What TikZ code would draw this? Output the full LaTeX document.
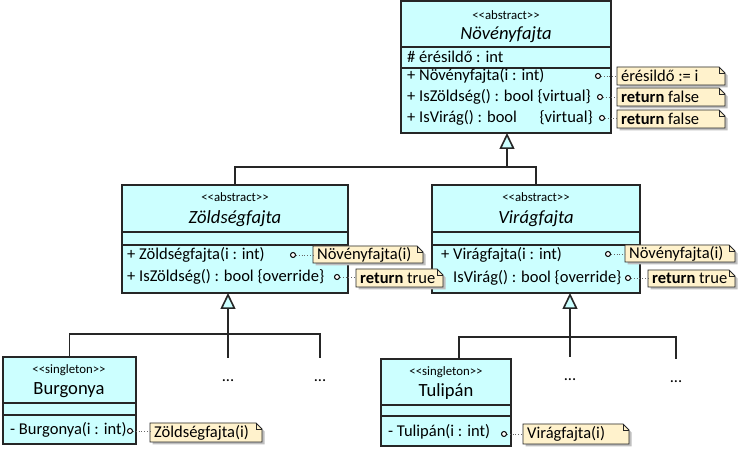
\documentclass[tikz,border=0pt]{standalone}
\usepackage{fontspec}
\setmainfont{Carlito}
\usetikzlibrary{arrows.meta,calc}
\definecolor{clsfill}{HTML}{CCFFFF}
\definecolor{notefill}{HTML}{FFF2CC}
\tikzset{
  cls/.style={draw=black!85, line width=1.3pt, fill=clsfill, inner sep=0pt, outer sep=0pt},
  sepline/.style={draw=black!85, line width=1.3pt},
  edgeline/.style={draw=black!85, line width=1.6pt},
  inh/.style={edgeline, -{Triangle[length=16pt,width=15pt,fill=clsfill]}},
  port/.style={circle, draw=black, line width=1pt, fill=white, minimum size=5pt, inner sep=0pt},
  link/.style={draw=black!60, dotted, line width=0.8pt},
  notebox/.style={draw=black!85, line width=0.9pt, fill=notefill},
  noteshape/.style={inner sep=0pt, outer sep=0pt},
  txt/.style={inner sep=0pt, anchor=west, font=\fontsize{16.5}{19}\selectfont},
  stereo/.style={inner sep=0pt, font=\fontsize{12.8}{15}\selectfont},
  ctitle/.style={inner sep=0pt, font=\fontsize{18.6}{22}\selectfont},
  dotsnode/.style={inner sep=0pt, font=\fontsize{16.5}{19}\selectfont},
}
\newcommand\UMLclass[7]{%
  \node[cls, minimum width={#4-#2}, minimum height={#5-#3}, anchor=north west] (#1) at (#2,#3) {};
  \draw[sepline] (#2,#6) -- (#4,#6);
  \draw[sepline] (#2,#7) -- (#4,#7);
}
\newcommand\UMLnote[6]{%
  \fill[black!25] ({#2+2.5},{#3+2.5}) -- ({#4-6+2.5},{#3+2.5}) -- ({#4+2.5},{#3+6+2.5}) -- ({#4+2.5},{#5+2.5}) -- ({#2+2.5},{#5+2.5}) -- cycle;
  \draw[notebox] (#2,#3) -- ({#4-6},#3) -- (#4,{#3+6}) -- (#4,#5) -- (#2,#5) -- cycle;
  \draw[notebox, fill=none] ({#4-6},#3) -- ({#4-6},{#3+6}) -- (#4,{#3+6});
  \node[noteshape, minimum width={#4-#2}, minimum height={#5-#3}, anchor=north west] (#1) at (#2,#3) {};
  \node[txt] (#1t) at ($(#1.west)+(4,0)$) {#6};
}
\begin{document}
\begin{tikzpicture}[x=1pt, y=-1pt]
\path[fill=white, use as bounding box] (0,0) rectangle (745,462);

% ---------- classes ----------
\UMLclass{nov}{401}{1}{611}{133}{47}{68}
\UMLclass{zold}{122}{185}{348}{293}{232}{245}
\UMLclass{vir}{432}{185}{640}{293}{232}{245}
\UMLclass{burg}{3}{357}{136}{444}{403}{415}
\UMLclass{tul}{381}{359}{511}{446}{405}{416}

% Novenyfajta
\node[stereo] (novs) at (506,15) {<\kern0pt<abstract>\kern0pt>};
\node[ctitle, font=\fontsize{18.6}{22}\selectfont\itshape] (novt) at (506,35) {Növényfajta};
\node[txt] (nova) at (407,57) {\# érésildő : int};
\node[txt] (novm1) at (407,76) {+ Növényfajta(i : int)};
\node[txt] (novm2) at (407,97) {+ IsZöldség() : bool \{virtual\}};
\node[txt] (novm3) at (407,118) {+ IsVirág() : bool};
\node[txt, anchor=east] (novm3b) at (593,118) {\{virtual\}};

% Zoldsegfajta
\node[stereo] (zolds) at (235,197) {<\kern0pt<abstract>\kern0pt>};
\node[ctitle, font=\fontsize{18.6}{22}\selectfont\itshape] (zoldt) at (235,219) {Zöldségfajta};
\node[txt] (zoldm1) at (127,255) {+ Zöldségfajta(i : int)};
\node[txt] (zoldm2) at (127,277) {+ IsZöldség() : bool \{override\}};

% Viragfajta
\node[stereo] (virs) at (536,197) {<\kern0pt<abstract>\kern0pt>};
\node[ctitle, font=\fontsize{18.6}{22}\selectfont\itshape] (virt) at (536,219) {Virágfajta};
\node[txt] (virm1) at (441,255) {+ Virágfajta(i : int)};
\node[txt] (virm2) at (453,278) {IsVirág() : bool \{override\}};

% Burgonya
\node[stereo] (burgs) at (69,370) {<\kern0pt<singleton>\kern0pt>};
\node[ctitle] (burgt) at (69,390) {Burgonya};
\node[txt] (burgm) at (10,430) {- Burgonya(i : int)};

% Tulipan
\node[stereo] (tuls) at (446,372) {<\kern0pt<singleton>\kern0pt>};
\node[ctitle] (tult) at (446,392) {Tulipán};
\node[txt] (tulm) at (388,432) {- Tulipán(i : int)};

% ---------- inheritance ----------
\coordinate (j1) at (507,167);
\draw[edgeline] (zold.north) |- (j1) -| (vir.north);
\draw[inh] (j1) -- (j1 |- nov.south);

\coordinate (zb1) at (228,358);
\coordinate (zb2) at (320,358);
\coordinate (zh) at (228,334);
\draw[inh] (zb1) -- (zb1 |- zold.south);
\draw[edgeline] (burg.north) |- (zh) -| (zb2);

\coordinate (vb1) at (570,357);
\coordinate (vb2) at (676,359);
\coordinate (vt) at (459,337);
\draw[inh] (vb1) -- (vb1 |- vir.south);
\draw[edgeline] (vt |- tul.north) -- (vt) -| (vb2);
\draw[edgeline] (vt) -- (vb1 |- vt);

\node[dotsnode] (d1) at (228,381) {...};
\node[dotsnode] (d2) at (320,381) {...};
\node[dotsnode] (d3) at (570,380) {...};
\node[dotsnode] (d4) at (676,382) {...};

% ---------- notes ----------
\UMLnote{n1}{617}{67}{725}{85}{érésildő := i}
\UMLnote{n2}{617}{88}{725}{106}{\textbf{return} false}
\UMLnote{n3}{617}{110}{725}{128}{\textbf{return} false}
\UMLnote{zn1}{313}{246}{423}{263}{Növényfajta(i)}
\UMLnote{zn2}{356}{269}{443}{287}{\textbf{return} true}
\UMLnote{vn1}{625}{245}{735}{262}{Növényfajta(i)}
\UMLnote{vn2}{648}{270}{735}{287}{\textbf{return} true}
\UMLnote{bn}{150}{423}{262}{442}{Zöldségfajta(i)}
\UMLnote{tn}{523}{424}{629}{444}{Virágfajta(i)}

% ports and links
\node[port] (p1) at (598,76) {};
\node[port] (p2) at (600,97) {};
\node[port] (p3) at (602,118) {};
\node[port] (p4) at (293,255) {};
\node[port] (p5) at (337,277) {};
\node[port] (p6) at (608,254) {};
\node[port] (p7) at (628,278) {};
\node[port] (p8) at (130,431) {};
\node[port] (p9) at (504,434) {};
\draw[link] (p1) -- (p1 -| n1.west);
\draw[link] (p2) -- (p2 -| n2.west);
\draw[link] (p3) -- (p3 -| n3.west);
\draw[link] (p4) -- (p4 -| zn1.west);
\draw[link] (p5) -- (p5 -| zn2.west);
\draw[link] (p6) -- (p6 -| vn1.west);
\draw[link] (p7) -- (p7 -| vn2.west);
\draw[link] (p8) -- (p8 -| bn.west);
\draw[link] (p9) -- (p9 -| tn.west);
\end{tikzpicture}
\end{document}
